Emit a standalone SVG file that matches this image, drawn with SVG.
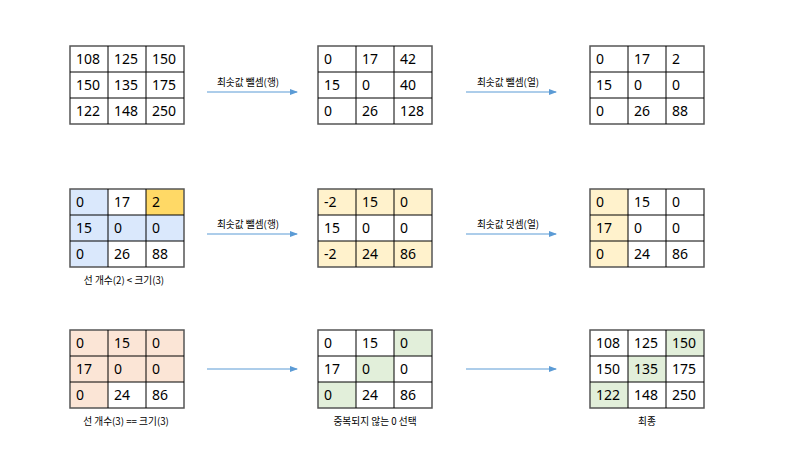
<svg xmlns="http://www.w3.org/2000/svg" width="800" height="450" viewBox="0 0 800 450">
<style>
.t{font-family:"Noto Sans","Noto Sans CJK KR",sans-serif;font-size:14px;fill:#000}
.lbl{font-family:"Noto Sans CJK KR","Noto Sans",sans-serif;font-size:9.7px;fill:#000;text-anchor:middle}
.g{stroke:#000;stroke-width:1;fill:none}
.o{stroke:#555;stroke-width:1.5;fill:none}
.arr{stroke:#5b9bd5;stroke-width:1;fill:none;marker-end:url(#ah)}
.b{fill:#dae8fc}.y{fill:#ffd966}.ly{fill:#fff2cc}.p{fill:#fbe5d6}.gr{fill:#e2efda}.w{fill:#fff}
</style>
<defs>
<marker id="ah" markerWidth="8" markerHeight="6" refX="7" refY="3" orient="auto" markerUnits="userSpaceOnUse"><path d="M0,0 L8,3 L0,6 z" fill="#5b9bd5"/></marker>
<g id="grid"><rect class="o" x="0" y="0" width="114" height="78"/><path class="g" d="M38,0V78M76,0V78M0,26H114M0,52H114"/></g>
</defs>
<rect width="800" height="450" fill="#fff"/>

<g id="m1" transform="translate(70,46)">
<use href="#grid"/>
<text class="t" x="6" y="18">108</text><text class="t" x="44" y="18">125</text><text class="t" x="82" y="18">150</text>
<text class="t" x="6" y="44">150</text><text class="t" x="44" y="44">135</text><text class="t" x="82" y="44">175</text>
<text class="t" x="6" y="70">122</text><text class="t" x="44" y="70">148</text><text class="t" x="82" y="70">250</text>
</g>
<g id="m2" transform="translate(318,46)">
<use href="#grid"/>
<text class="t" x="6" y="18">0</text><text class="t" x="44" y="18">17</text><text class="t" x="82" y="18">42</text>
<text class="t" x="6" y="44">15</text><text class="t" x="44" y="44">0</text><text class="t" x="82" y="44">40</text>
<text class="t" x="6" y="70">0</text><text class="t" x="44" y="70">26</text><text class="t" x="82" y="70">128</text>
</g>
<g id="m3" transform="translate(590,46)">
<use href="#grid"/>
<text class="t" x="6" y="18">0</text><text class="t" x="44" y="18">17</text><text class="t" x="82" y="18">2</text>
<text class="t" x="6" y="44">15</text><text class="t" x="44" y="44">0</text><text class="t" x="82" y="44">0</text>
<text class="t" x="6" y="70">0</text><text class="t" x="44" y="70">26</text><text class="t" x="82" y="70">88</text>
</g>

<g id="m4" transform="translate(70,189)">
<rect class="b" x="0" y="0" width="38" height="78"/><rect class="b" x="38" y="26" width="76" height="26"/><rect class="y" x="76" y="0" width="38" height="26"/>
<use href="#grid"/>
<text class="t" x="6" y="18">0</text><text class="t" x="44" y="18">17</text><text class="t" x="82" y="18">2</text>
<text class="t" x="6" y="44">15</text><text class="t" x="44" y="44">0</text><text class="t" x="82" y="44">0</text>
<text class="t" x="6" y="70">0</text><text class="t" x="44" y="70">26</text><text class="t" x="82" y="70">88</text>
<text class="lbl" x="54" y="95">선 개수(2) &lt; 크기(3)</text>
</g>
<g id="m5" transform="translate(318,189)">
<rect class="ly" x="0" y="0" width="114" height="26"/><rect class="ly" x="0" y="52" width="114" height="26"/>
<use href="#grid"/>
<text class="t" x="6" y="18">-2</text><text class="t" x="44" y="18">15</text><text class="t" x="82" y="18">0</text>
<text class="t" x="6" y="44">15</text><text class="t" x="44" y="44">0</text><text class="t" x="82" y="44">0</text>
<text class="t" x="6" y="70">-2</text><text class="t" x="44" y="70">24</text><text class="t" x="82" y="70">86</text>
</g>
<g id="m6" transform="translate(590,189)">
<rect class="ly" x="0" y="0" width="38" height="78"/>
<use href="#grid"/>
<text class="t" x="6" y="18">0</text><text class="t" x="44" y="18">15</text><text class="t" x="82" y="18">0</text>
<text class="t" x="6" y="44">17</text><text class="t" x="44" y="44">0</text><text class="t" x="82" y="44">0</text>
<text class="t" x="6" y="70">0</text><text class="t" x="44" y="70">24</text><text class="t" x="82" y="70">86</text>
</g>

<g id="m7" transform="translate(70,330)">
<rect class="p" x="0" y="0" width="114" height="52"/><rect class="p" x="0" y="52" width="38" height="26"/>
<use href="#grid"/>
<text class="t" x="6" y="18">0</text><text class="t" x="44" y="18">15</text><text class="t" x="82" y="18">0</text>
<text class="t" x="6" y="44">17</text><text class="t" x="44" y="44">0</text><text class="t" x="82" y="44">0</text>
<text class="t" x="6" y="70">0</text><text class="t" x="44" y="70">24</text><text class="t" x="82" y="70">86</text>
<text class="lbl" x="56" y="95">선 개수(3) == 크기(3)</text>
</g>
<g id="m8" transform="translate(318,330)">
<rect class="gr" x="76" y="0" width="38" height="26"/><rect class="gr" x="38" y="26" width="38" height="26"/><rect class="gr" x="0" y="52" width="38" height="26"/>
<use href="#grid"/>
<text class="t" x="6" y="18">0</text><text class="t" x="44" y="18">15</text><text class="t" x="82" y="18">0</text>
<text class="t" x="6" y="44">17</text><text class="t" x="44" y="44">0</text><text class="t" x="82" y="44">0</text>
<text class="t" x="6" y="70">0</text><text class="t" x="44" y="70">24</text><text class="t" x="82" y="70">86</text>
<text class="lbl" x="57" y="95">중복되지 않는 0 선택</text>
</g>
<g id="m9" transform="translate(590,330)">
<rect class="gr" x="76" y="0" width="38" height="26"/><rect class="gr" x="38" y="26" width="38" height="26"/><rect class="gr" x="0" y="52" width="38" height="26"/>
<use href="#grid"/>
<text class="t" x="6" y="18">108</text><text class="t" x="44" y="18">125</text><text class="t" x="82" y="18">150</text>
<text class="t" x="6" y="44">150</text><text class="t" x="44" y="44">135</text><text class="t" x="82" y="44">175</text>
<text class="t" x="6" y="70">122</text><text class="t" x="44" y="70">148</text><text class="t" x="82" y="70">250</text>
<text class="lbl" x="57" y="95">최종</text>
</g>

<g id="connectors">
<path class="arr" d="M207,92H297"/><path class="arr" d="M466,92H556"/>
<path class="arr" d="M207,234H297"/><path class="arr" d="M466,234H556"/>
<path class="arr" d="M207,369H297"/><path class="arr" d="M466,369H556"/>
<text class="lbl" x="248" y="86">최솟값 뺄셈(행)</text>
<text class="lbl" x="508" y="86">최솟값 뺄셈(열)</text>
<text class="lbl" x="248" y="228">최솟값 뺄셈(행)</text>
<text class="lbl" x="508" y="228">최솟값 덧셈(열)</text>
</g>
</svg>
